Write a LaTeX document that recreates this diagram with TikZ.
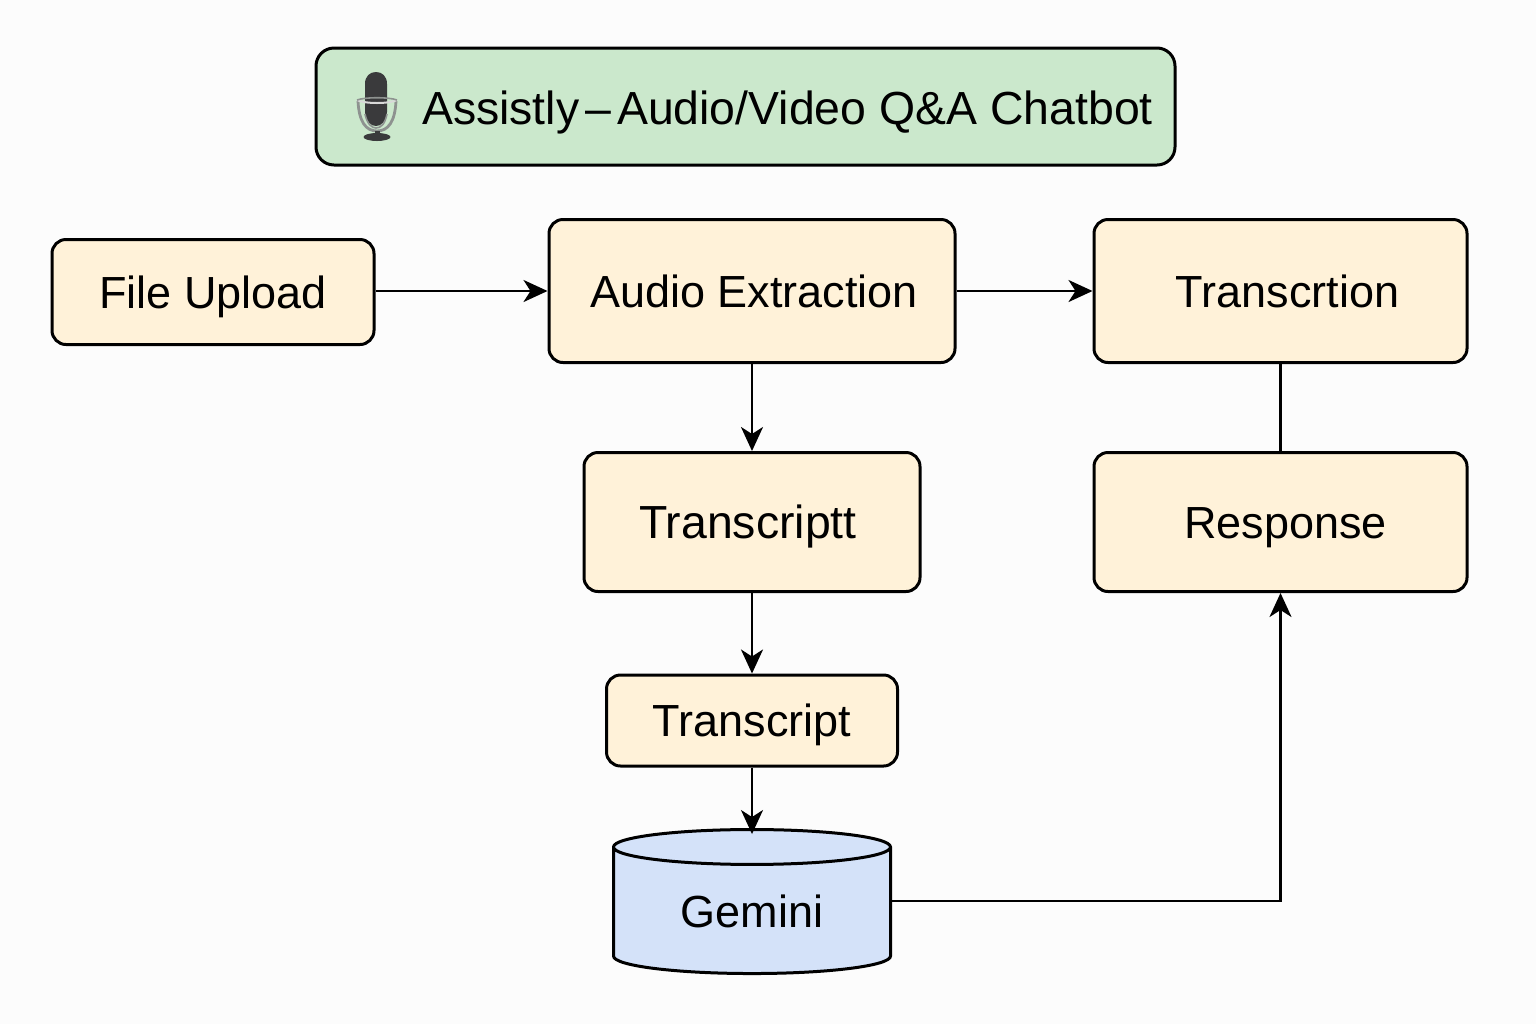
\documentclass[tikz,border=0pt]{standalone}
\usepackage{fontspec}
\setmainfont{Liberation Sans}
\usetikzlibrary{arrows.meta,shapes.geometric}
\definecolor{boxfill}{HTML}{FFF2D9}
\definecolor{titlefill}{HTML}{CBE8CC}
\definecolor{dbfill}{HTML}{D4E2F9}
\definecolor{micdark}{HTML}{3A3A3C}
\definecolor{micgrey}{HTML}{8E9290}
\tikzset{
         stage/.style=
          {
           draw=black,
           fill=boxfill,
           line width=1.5pt,
           rounded corners=7pt,
           font=\fontsize{22.5}{26}\selectfont,
           text height=16pt,
           text depth=0pt,
           inner sep=0pt
          },
         flow/.style={line width=1.2pt,-{Stealth[length=12pt,width=11pt,inset=3.5pt]}},
         link/.style={line width=1.2pt}
        }
\begin{document}
\begin{tikzpicture}[x=.5pt,y=-.5pt]
\useasboundingbox[fill=white!99!black](0,0)rectangle(1536,1024);
%title
\node[stage,fill=titlefill,rounded corners=9pt,minimum width=429.5pt,minimum height=58.5pt,
font=\fontsize{23.2}{28}\selectfont,text height=18pt](title) at(745.5,106.5)
{\hspace{42pt}Assistly\kern3pt–\kern3pt Audio/Video Q\&A Chatbot};
%microphone
\draw[micgrey,line width=1.4pt](358,101) .. controls (359,122) and (366,131) .. (377,131)
.. controls (388,131) and (395,122) .. (396,101);
\fill[micdark](365,84) .. controls (365,76) and (370,72) .. (376,72)
.. controls (382,72) and (387,76) .. (387,84)
--(387,112) .. controls (386,122) and (381,126) .. (376,126)
.. controls (371,126) and (366,122) .. (365,112)--cycle;
\draw[micgrey,line width=.8pt](365,114) .. controls (367,124) and (372,128) .. (376,128)
.. controls (381,128) and (385,124) .. (387,114);
\draw[black!15,line width=1pt](357,100) .. controls (365,104) and (389,104) .. (397,100);
\draw[micgrey,line width=.8pt](357,100) .. controls (365,97) and (389,97) .. (397,100);
\fill[micdark](374.5,131)rectangle(379.5,137);
\fill[micdark](377,137)ellipse[x radius=13.5,y radius=4];
%stages
\node[stage,minimum width=161pt,minimum height=52.5pt](upload) at(213,292){File Upload};
\node[stage,minimum width=203pt,minimum height=71.5pt](extract) at(752,291){\hspace{2pt}Audio Extraction};
\node[stage,minimum width=186.5pt,minimum height=71.5pt](transcribe) at(1280.5,291){\hspace{7pt}Transcrtion};
\node[stage,minimum width=168pt,minimum height=69.5pt,font=\fontsize{23.2}{26}\selectfont](draft) at(752,522){Transcriptt\kern4pt};
\node[stage,minimum width=186.5pt,minimum height=69.5pt](response) at(1280.5,522){\hspace{5pt}Response};
\node[stage,minimum width=145.5pt,minimum height=45.5pt](transcript) at(752,720.5){Transcript};
%gemini
\node[cylinder,shape border rotate=90,draw=black,fill=dbfill,line width=1.5pt,aspect=.245,
minimum width=138.5pt,minimum height=72pt,inner sep=0pt,
font=\fontsize{22.5}{26}\selectfont,text height=16pt,text depth=0pt](gemini) at(752,911){Gemini};
%connectors
\draw[flow](upload.east|-extract.west)--(extract.west);
\draw[flow](extract.east)--(transcribe.west);
\draw[flow](extract.south)--(draft.north);
\draw[flow](draft.south)--(transcript.north);
\draw[flow,shorten >=-3pt](transcript.south)--(gemini.north);
\draw[link](transcribe.south)--(response.north);
\draw[flow]([yshift=5pt]gemini.east)-|(response.south);
\end{tikzpicture}
\end{document}
